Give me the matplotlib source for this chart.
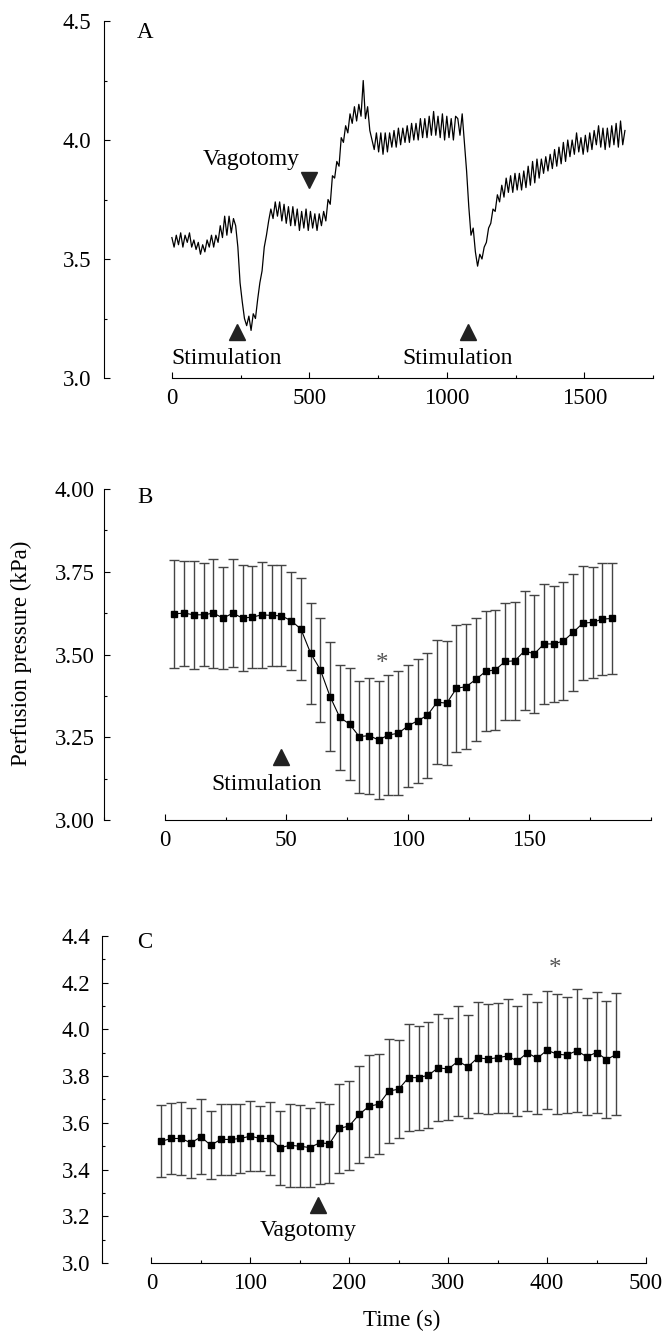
import numpy as np
import matplotlib
matplotlib.use("Agg")
import matplotlib.pyplot as plt
from matplotlib.ticker import MultipleLocator

plt.rcParams['font.family'] = ['Liberation Serif', 'DejaVu Serif']
plt.rcParams['font.size'] = 16.5

# Panel A: continuous perfusion pressure trace, sampled every 8 s
trace_y = [
    3.59, 3.55, 3.60, 3.56, 3.61, 3.55, 3.60, 3.57, 3.61, 3.55,
    3.58, 3.54, 3.57, 3.52, 3.56, 3.53, 3.58, 3.55, 3.60, 3.55,
    3.60, 3.57, 3.64, 3.59, 3.68, 3.60, 3.68, 3.61, 3.67, 3.64,
    3.55, 3.40, 3.32, 3.25, 3.22, 3.26, 3.20, 3.27, 3.25, 3.33,
    3.40, 3.45, 3.55, 3.60, 3.66, 3.71, 3.67, 3.74, 3.68, 3.74,
    3.66, 3.73, 3.65, 3.72, 3.64, 3.72, 3.64, 3.71, 3.62, 3.70,
    3.63, 3.71, 3.62, 3.70, 3.63, 3.69, 3.62, 3.69, 3.64, 3.70,
    3.66, 3.75, 3.73, 3.85, 3.84, 3.91, 3.89, 4.01, 3.99, 4.06,
    4.03, 4.11, 4.07, 4.14, 4.08, 4.15, 4.10, 4.25, 4.09, 4.14,
    4.04, 4.00, 3.96, 4.03, 3.95, 4.03, 3.94, 4.03, 3.95, 4.03,
    3.97, 4.04, 3.97, 4.05, 3.98, 4.05, 3.99, 4.06, 3.99, 4.07,
    4.00, 4.07, 4.00, 4.09, 4.01, 4.09, 4.01, 4.10, 4.02, 4.12,
    4.02, 4.10, 4.01, 4.11, 4.00, 4.10, 4.01, 4.09, 4.00, 4.10,
    4.09, 4.02, 4.11, 3.99, 3.87, 3.72, 3.60, 3.63, 3.53, 3.47,
    3.52, 3.50, 3.55, 3.57, 3.63, 3.65, 3.71, 3.70, 3.77, 3.74,
    3.81, 3.76, 3.84, 3.78, 3.85, 3.78, 3.86, 3.79, 3.86, 3.79,
    3.87, 3.80, 3.89, 3.81, 3.91, 3.82, 3.92, 3.84, 3.92, 3.86,
    3.93, 3.87, 3.94, 3.88, 3.96, 3.89, 3.97, 3.90, 3.99, 3.91,
    4.00, 3.93, 4.00, 3.94, 4.03, 3.95, 4.01, 3.94, 4.02, 3.95,
    4.03, 3.96, 4.04, 3.98, 4.06, 3.97, 4.05, 3.96, 4.05, 3.97,
    4.06, 3.98, 4.07, 3.97, 4.08, 3.98, 4.04,
]
trace_x = np.arange(len(trace_y)) * 8

# Panel B: mean +- SEM around stimulation
b_t = np.arange(4, 188, 4)
b_mean = [3.623, 3.625, 3.620, 3.620, 3.625, 3.610, 3.625, 3.610, 3.613, 3.620,
          3.618, 3.617, 3.602, 3.577, 3.504, 3.454, 3.373, 3.310, 3.290, 3.252,
          3.255, 3.242, 3.257, 3.262, 3.284, 3.300, 3.316, 3.356, 3.353, 3.398,
          3.403, 3.425, 3.449, 3.454, 3.479, 3.481, 3.511, 3.502, 3.532, 3.532,
          3.541, 3.567, 3.595, 3.597, 3.607, 3.609]
b_err = [0.163, 0.159, 0.164, 0.156, 0.165, 0.154, 0.163, 0.160, 0.153, 0.160,
         0.152, 0.153, 0.148, 0.153, 0.153, 0.157, 0.165, 0.159, 0.168, 0.169,
         0.175, 0.179, 0.180, 0.187, 0.185, 0.187, 0.188, 0.188, 0.188, 0.192,
         0.189, 0.185, 0.181, 0.181, 0.178, 0.178, 0.180, 0.178, 0.180, 0.176,
         0.178, 0.176, 0.171, 0.167, 0.169, 0.167]

# Panel C: mean +- SEM around vagotomy
c_t = np.arange(10, 480, 10)
c_mean = [3.521, 3.533, 3.533, 3.514, 3.540, 3.504, 3.529, 3.529, 3.533, 3.543,
          3.533, 3.533, 3.493, 3.504, 3.500, 3.494, 3.514, 3.511, 3.576, 3.587,
          3.636, 3.671, 3.680, 3.736, 3.744, 3.794, 3.793, 3.804, 3.836, 3.830,
          3.864, 3.840, 3.879, 3.873, 3.879, 3.886, 3.864, 3.900, 3.876, 3.911,
          3.894, 3.890, 3.909, 3.883, 3.901, 3.871, 3.893]
c_err = [0.155, 0.154, 0.158, 0.150, 0.161, 0.146, 0.152, 0.152, 0.148, 0.151,
         0.141, 0.158, 0.158, 0.177, 0.176, 0.170, 0.175, 0.170, 0.190, 0.190,
         0.208, 0.218, 0.214, 0.223, 0.209, 0.227, 0.223, 0.227, 0.228, 0.219,
         0.236, 0.221, 0.238, 0.234, 0.235, 0.243, 0.236, 0.250, 0.240, 0.253,
         0.257, 0.250, 0.262, 0.250, 0.260, 0.252, 0.261]

fig = plt.figure(figsize=(6.64, 13.31), dpi=100)
axA = fig.add_axes([0.1566, 0.7160, 0.8268, 0.2682])
axB = fig.add_axes([0.1566, 0.3839, 0.8238, 0.2487])
axC = fig.add_axes([0.1536, 0.0511, 0.8193, 0.2457])


def style(ax, xend, ypad):
    for s in ['top', 'right']:
        ax.spines[s].set_visible(False)
    ax.spines['bottom'].set_bounds(0, xend)
    ax.tick_params(which='both', direction='in', width=0.8)
    ax.tick_params(which='major', length=4.5)
    ax.tick_params(which='minor', length=2.5)
    ax.tick_params(axis='x', pad=7)
    ax.tick_params(axis='y', pad=ypad)


# A
axA.plot(trace_x, trace_y, color='black', lw=0.9)
axA.set_xlim(-247, 1750)
axA.set_ylim(3.0, 4.5)
axA.set_xticks([0, 500, 1000, 1500])
axA.xaxis.set_minor_locator(MultipleLocator(250))
axA.yaxis.set_major_locator(MultipleLocator(0.5))
axA.yaxis.set_minor_locator(MultipleLocator(0.25))
axA.yaxis.set_major_formatter(plt.FormatStrFormatter('%.1f'))
style(axA, 1750, 9.4)
axA.plot([237, 1077], [3.193, 3.193], '^', color='#222222', ms=12, ls='none')
axA.plot([500], [3.832], 'v', color='#222222', ms=12)
axA.text(200, 3.084, 'Stimulation', ha='center', va='center', fontsize=17)
axA.text(1038, 3.084, 'Stimulation', ha='center', va='center', fontsize=17)
axA.text(288, 3.92, 'Vagotomy', ha='center', va='center', fontsize=17)
axA.text(0.075, 0.969, 'A', transform=axA.transAxes, ha='center', va='center')

# B
axB.errorbar(b_t, b_mean, yerr=b_err, fmt='none', ecolor='#444444',
             elinewidth=1.0, capsize=3.5, capthick=1.0)
axB.plot(b_t, b_mean, color='black', lw=0.8, marker='s', ms=4.5)
axB.set_xlim(-25, 200)
axB.set_ylim(3.0, 4.0)
axB.set_xticks([0, 50, 100, 150])
axB.xaxis.set_minor_locator(MultipleLocator(25))
axB.yaxis.set_major_locator(MultipleLocator(0.25))
axB.yaxis.set_minor_locator(MultipleLocator(0.125))
axB.yaxis.set_major_formatter(plt.FormatStrFormatter('%.2f'))
style(axB, 200, 7)
axB.plot([48], [3.19], '^', color='#222222', ms=12)
axB.text(42, 3.106, 'Stimulation', ha='center', va='center', fontsize=17)
axB.text(89.3, 3.47, '*', ha='center', va='center', color='#555555', fontsize=18)
axB.text(0.075, 0.973, 'B', transform=axB.transAxes, ha='center', va='center')

# C
axC.errorbar(c_t, c_mean, yerr=c_err, fmt='none', ecolor='#444444',
             elinewidth=1.0, capsize=3.5, capthick=1.0)
axC.plot(c_t, c_mean, color='black', lw=0.8, marker='s', ms=4.5)
axC.set_xlim(-50, 500)
axC.set_ylim(3.0, 4.4)
axC.set_xticks([0, 100, 200, 300, 400, 500])
axC.xaxis.set_minor_locator(MultipleLocator(50))
axC.yaxis.set_major_locator(MultipleLocator(0.2))
axC.yaxis.set_minor_locator(MultipleLocator(0.1))
axC.yaxis.set_major_formatter(plt.FormatStrFormatter('%.1f'))
style(axC, 500, 8.6)
axC.plot([168], [3.248], '^', color='#222222', ms=12)
axC.text(159, 3.14, 'Vagotomy', ha='center', va='center', fontsize=17)
axC.text(408, 4.26, '*', ha='center', va='center', color='#555555', fontsize=18)
axC.text(0.079, 0.979, 'C', transform=axC.transAxes, ha='center', va='center')

fig.text(21 / 664, 1 - 653 / 1331, 'Perfusion pressure (kPa)', rotation=90,
         ha='center', va='center')
fig.text(402 / 664, 1 - 1320 / 1331, 'Time (s)', ha='center', va='center')

fig.savefig('out.png', dpi=100)
